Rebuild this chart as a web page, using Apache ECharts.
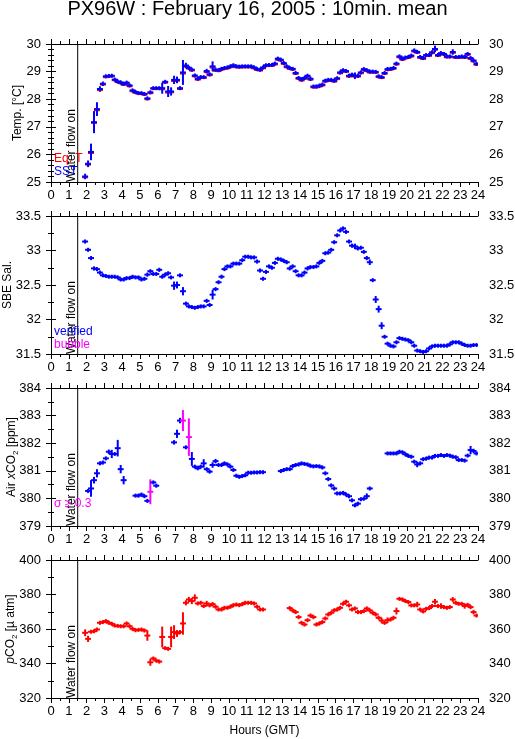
<!DOCTYPE html>
<html><head><meta charset="utf-8">
<script src="https://cdn.jsdelivr.net/npm/echarts@6/dist/echarts.min.js"></script>
<style>html,body{margin:0;padding:0;background:#fff}#c{width:515px;height:739px}</style>
</head><body><div id="c"></div>
<script>
// 10-minute mean time stamps (centre of interval), GMT
const times = ["01:55",
"02:05","02:15","02:25","02:35","02:45","02:55",
"03:05","03:15","03:25","03:35","03:45","03:55",
"04:05","04:15","04:25","04:35","04:45","04:55",
"05:05","05:15","05:25","05:35","05:45","05:55",
"06:05","06:15","06:25","06:35","06:45","06:55",
"07:05","07:15","07:25","07:35","07:45","07:55",
"08:05","08:15","08:25","08:35","08:45","08:55",
"09:05","09:15","09:25","09:35","09:45","09:55",
"10:05","10:15","10:25","10:35","10:45","10:55",
"11:05","11:15","11:25","11:35","11:45","11:55",
"12:05","12:15","12:25","12:35","12:45","12:55",
"13:05","13:15","13:25","13:35","13:45","13:55",
"14:05","14:15","14:25","14:35","14:45","14:55",
"15:05","15:15","15:25","15:35","15:45","15:55",
"16:05","16:15","16:25","16:35","16:45","16:55",
"17:05","17:15","17:25","17:35","17:45","17:55",
"18:05","18:15","18:25","18:35","18:45","18:55",
"19:05","19:15","19:25","19:35","19:45","19:55",
"20:05","20:15","20:25","20:35","20:45","20:55",
"21:05","21:15","21:25","21:35","21:45","21:55",
"22:05","22:15","22:25","22:35","22:45","22:55",
"23:05","23:15","23:25","23:35","23:45","23:55"];

const sst = [25.20,
25.66,26.09,27.17,27.64,28.37,28.56,
28.83,28.84,28.85,28.71,28.64,28.61,
28.55,28.60,28.50,28.32,28.26,28.22,
28.22,28.19,28.03,28.25,28.40,28.40,
28.40,28.40,28.63,28.28,28.28,28.70,
28.70,28.40,28.97,29.22,29.14,29.07,
28.86,28.74,28.80,28.80,29.02,28.90,
29.19,29.07,29.05,29.10,29.13,29.15,
29.19,29.23,29.19,29.18,29.19,29.19,
29.19,29.19,29.15,29.09,29.07,29.15,
29.23,29.24,29.24,29.29,29.47,29.43,
29.31,29.19,29.13,29.10,28.95,28.77,
28.71,28.77,28.85,28.74,28.46,28.46,
28.49,28.53,28.67,28.70,28.70,28.67,
28.76,28.97,29.05,29.02,28.85,28.89,
28.85,28.85,28.97,29.09,29.05,29.00,
29.00,28.99,28.83,28.80,28.95,29.09,
29.10,29.13,29.29,29.55,29.46,29.51,
29.53,29.58,29.76,29.71,29.53,29.49,
29.60,29.60,29.70,29.82,29.60,29.67,
29.64,29.55,29.55,29.71,29.53,29.53,
29.55,29.53,29.64,29.49,29.40,29.28];

const sstSd = [0.10,
0.12,0.30,0.40,0.25,0.10,0.08,
0.03,0.03,0.03,0.02,0.02,0.02,
0.03,0.02,0.05,0.04,0.03,0.03,
0.02,0.03,0.04,0.05,0.03,0.03,
0.04,0.20,0.05,0.20,0.15,0.15,
0.12,0.06,0.45,0.10,0.06,0.04,
0.05,0.04,0.04,0.04,0.08,0.05,
0.18,0.06,0.04,0.03,0.03,0.03,
0.03,0.03,0.02,0.02,0.02,0.02,
0.02,0.02,0.03,0.03,0.03,0.03,
0.03,0.03,0.03,0.03,0.06,0.06,
0.03,0.03,0.03,0.03,0.04,0.06,
0.04,0.03,0.05,0.08,0.03,0.03,
0.03,0.03,0.03,0.03,0.02,0.03,
0.05,0.05,0.04,0.03,0.06,0.05,
0.12,0.08,0.04,0.06,0.04,0.03,
0.03,0.03,0.06,0.05,0.05,0.08,
0.04,0.04,0.06,0.04,0.05,0.04,
0.05,0.05,0.08,0.05,0.04,0.04,
0.03,0.03,0.06,0.12,0.06,0.06,
0.04,0.04,0.04,0.10,0.06,0.06,
0.05,0.05,0.06,0.05,0.05,0.04];

const eqT = [25.17,
25.63,26.05,27.14,27.60,28.33,28.53,
28.80,28.82,28.83,28.69,28.62,28.58,
28.52,28.57,28.47,28.29,28.23,28.20,
28.19,28.16,28.00,28.22,28.38,28.37,
28.37,28.36,28.60,28.24,28.25,28.66,
28.67,28.37,28.93,29.18,29.11,29.04,
28.83,28.71,28.77,28.77,28.98,28.87,
29.15,29.03,29.02,29.07,29.10,29.12,
29.16,29.20,29.16,29.15,29.16,29.16,
29.16,29.16,29.12,29.06,29.04,29.12,
29.20,29.21,29.21,29.26,29.43,29.40,
29.28,29.16,29.10,29.07,28.92,28.74,
28.68,28.74,28.82,28.71,28.43,28.43,
28.46,28.50,28.64,28.67,28.67,28.64,
28.73,28.94,29.02,28.99,28.82,28.86,
28.82,28.82,28.94,29.06,29.02,28.97,
28.97,28.96,28.80,28.77,28.92,29.06,
29.07,29.10,29.26,29.52,29.43,29.48,
29.50,29.55,29.73,29.68,29.50,29.46,
29.57,29.57,29.67,29.79,29.57,29.64,
29.61,29.52,29.52,29.68,29.50,29.50,
29.52,29.50,29.61,29.46,29.37,29.25];

const sal = [33.13,
33.01,32.89,32.74,32.73,32.68,32.64,
32.63,32.62,32.62,32.62,32.61,32.58,
32.58,32.60,32.60,32.62,32.61,32.61,
32.58,32.59,32.65,32.70,32.66,32.66,
32.72,32.62,32.65,32.67,32.61,32.49,
32.50,32.64,32.41,32.23,32.19,32.18,
32.17,32.18,32.19,32.19,32.27,32.21,
32.36,32.44,32.54,32.62,32.73,32.77,
32.77,32.81,32.81,32.81,32.86,32.91,
32.91,32.90,32.90,32.84,32.71,32.59,
32.69,32.77,32.75,32.82,32.88,32.87,
32.85,32.83,32.74,32.77,32.70,32.64,
32.64,32.68,32.74,32.76,32.76,32.77,
32.82,32.85,32.96,32.97,33.01,33.12,
33.22,33.29,33.32,33.27,33.13,33.07,
33.06,33.03,33.04,32.98,32.89,32.83,
32.57,32.29,32.15,31.91,31.75,31.65,
31.62,31.61,31.67,31.73,31.72,31.71,
31.70,31.67,31.62,31.55,31.54,31.53,
31.54,31.58,31.61,31.62,31.62,31.62,
31.62,31.62,31.64,31.67,31.67,31.67,
31.65,31.63,31.62,31.62,31.63,31.63];

const salSd = [0.03,
0.02,0.03,0.03,0.03,0.02,0.01,
0.01,0.01,0.01,0.01,0.01,0.01,
0.01,0.01,0.01,0.01,0.01,0.01,
0.01,0.01,0.03,0.02,0.01,0.01,
0.03,0.01,0.01,0.01,0.02,0.06,
0.05,0.02,0.06,0.02,0.01,0.01,
0.01,0.01,0.01,0.02,0.01,0.03,
0.07,0.02,0.02,0.03,0.01,0.01,
0.01,0.01,0.01,0.01,0.01,0.01,
0.01,0.01,0.01,0.03,0.03,0.02,
0.02,0.02,0.02,0.01,0.01,0.01,
0.01,0.01,0.02,0.02,0.01,0.01,
0.01,0.01,0.01,0.01,0.01,0.01,
0.01,0.01,0.02,0.01,0.01,0.02,
0.02,0.02,0.01,0.03,0.02,0.03,
0.04,0.02,0.01,0.02,0.03,0.04,
0.02,0.05,0.05,0.05,0.02,0.01,
0.01,0.01,0.02,0.01,0.01,0.01,
0.01,0.01,0.02,0.01,0.01,0.01,
0.01,0.01,0.01,0.01,0.01,0.01,
0.01,0.01,0.01,0.01,0.01,0.01,
0.01,0.01,0.01,0.01,0.01,0.01];

const airCo2 = [null,
380.27,380.36,380.66,380.91,381.27,381.30,
381.45,381.69,381.61,381.61,381.82,381.06,
380.66,null,null,null,380.10,380.10,
380.14,380.08,379.91,380.24,380.58,380.46,
null,null,null,null,null,382.03,
382.34,382.82,382.82,381.85,382.22,381.43,
381.15,381.09,381.15,381.27,381.06,380.97,
381.21,381.35,381.21,381.21,381.27,381.23,
381.15,381.03,380.82,380.78,380.81,380.84,
380.93,380.93,380.94,380.94,380.95,380.95,
null,null,null,null,null,380.99,
381.03,381.06,381.06,381.17,381.21,381.23,
381.27,381.25,381.23,381.18,381.16,381.17,
381.16,381.12,380.91,380.70,380.47,380.36,
380.18,380.18,380.20,380.14,380.08,379.93,
379.75,379.81,379.97,379.99,380.08,380.36,
null,null,null,null,null,381.63,
381.63,381.63,381.63,381.69,381.67,381.60,
381.54,381.51,381.33,381.23,381.27,381.42,
381.44,381.48,381.48,381.54,381.54,381.57,
381.54,381.57,381.55,381.51,381.49,381.39,
381.39,381.37,381.55,381.75,381.72,381.63];

const airSd = [0,
0.05,0.30,0.12,0.15,0.05,0.04,
0.05,0.08,0.15,0.06,0.30,0.15,
0.15,0,0,0,0.05,0.03,
0.03,0.03,0.06,0.45,0.06,0.07,
0,0,0,0,0,0.08,
0.15,0.10,0.38,0.05,0.68,0.25,
0.05,0.05,0.06,0.15,0.05,0.06,
0.10,0.08,0.04,0.04,0.04,0.05,
0.06,0.06,0.06,0.06,0.04,0.03,
0.03,0.03,0.02,0.02,0.02,0.02,
0,0,0,0,0,0.03,
0.03,0.03,0.04,0.05,0.04,0.03,
0.03,0.02,0.02,0.03,0.03,0.04,
0.04,0.04,0.06,0.05,0.05,0.05,
0.05,0.04,0.04,0.03,0.03,0.04,
0.05,0.04,0.04,0.05,0.10,0.05,
0,0,0,0,0,0.03,
0.02,0.02,0.02,0.03,0.03,0.03,
0.03,0.04,0.05,0.10,0.05,0.05,
0.04,0.04,0.04,0.04,0.04,0.05,
0.04,0.04,0.03,0.03,0.03,0.03,
0.03,0.03,0.05,0.15,0.08,0.05];

// points flagged sigma >= 0.3 (drawn magenta)
const airFlagged = ["05:35","07:25","07:45"];

const pco2 = [357.8,
354.3,358.4,358.7,359.7,363.6,364.0,
364.6,363.6,363.0,362.0,361.8,361.6,
361.6,363.2,361.6,360.1,359.3,359.5,
359.7,359.1,356.2,340.7,342.9,341.7,
341.1,355.4,348.9,348.5,355.4,358.2,
357.4,358.2,363.2,375.2,377.1,376.2,
378.1,374.8,375.2,373.3,374.8,373.7,
374.4,372.9,371.3,371.3,372.3,372.3,
372.9,373.8,374.2,373.8,374.4,375.2,
375.2,375.2,374.8,372.9,371.3,371.3,
null,null,null,null,null,null,
null,null,372.1,370.8,369.8,366.9,
363.6,362.6,365.1,367.8,366.9,362.6,
363.2,364.0,366.1,368.4,369.4,370.8,
371.3,372.3,374.6,375.8,373.7,371.3,
371.9,369.8,369.8,370.4,371.9,370.8,
369.4,368.4,366.5,364.9,363.6,365.1,
365.5,366.5,370.4,377.5,377.1,376.2,
375.6,373.7,373.7,374.2,371.3,370.2,
371.7,372.1,373.3,375.8,373.3,373.3,
372.7,372.3,372.7,377.1,375.2,374.6,
374.6,373.3,374.0,372.7,369.8,367.8];

const pco2Sd = [2.0,
1.8,1.0,0.8,0.8,1.2,0.6,
0.5,0.5,0.5,0.5,0.5,0.5,
0.5,0.8,0.8,0.6,0.5,0.5,
0.5,0.6,3.0,2.0,0.8,0.8,
0.6,6.0,1.0,1.0,6.0,4.0,
2.0,1.2,6.5,1.5,1.5,1.8,
2.0,0.8,0.8,1.0,1.5,1.0,
1.2,0.8,0.6,0.6,0.5,0.5,
0.5,0.6,0.6,0.5,0.5,0.5,
0.5,0.5,0.6,0.8,0.6,0.6,
0,0,0,0,0,0,
0,0,1.2,0.8,0.6,1.2,
0.8,0.6,1.0,0.8,1.2,0.8,
0.8,0.6,0.6,0.6,0.5,0.5,
0.6,0.8,0.8,1.0,1.0,0.6,
0.8,1.2,0.8,0.8,1.2,0.8,
0.6,0.8,1.0,1.6,1.2,1.6,
0.8,0.8,2.0,1.0,1.0,0.8,
0.8,0.8,0.8,1.6,1.0,0.8,
0.8,0.8,1.0,1.6,1.0,1.6,
0.8,0.8,0.8,1.4,1.0,0.8,
0.8,1.5,1.0,0.8,1.3,0.8];

const waterFlowOn = 1.5; // hours GMT
const xTicks = {min: 0, max: 24, interval: 1};
const panelsY = [
  {min: 25, max: 30, interval: 1, minor: 5},
  {min: 31.5, max: 33.5, interval: 0.5, minor: 2},
  {min: 379, max: 384, interval: 1, minor: 2},
  {min: 320, max: 400, interval: 20, minor: 2}
];

// ---------- build ----------
const FONT = 'Liberation Sans, Arial, Helvetica, sans-serif';
const BLUE = '#0000ff', RED = '#ff0000', MAG = '#ff00ff';
const hrs = times.map(t => { const p = t.split(':'); return +p[0] + (+p[1]) / 60; });
const HALF = 1 / 6; // horizontal half width of a mark (hours)

function mk(vals, sds, flags) {
  return vals.map((v, i) => [hrs[i], v == null ? NaN : v, sds ? sds[i] : 0,
    flags && flags.indexOf(times[i]) >= 0 ? 1 : 0]);
}

function crossRender(color, minH) {
  return function (params, api) {
    const x = api.value(0), y = api.value(1), sd = api.value(2) || 0;
    if (y == null || isNaN(y)) return null;
    const c = api.coord([x, y]);
    const l = api.coord([x - HALF, y]), r = api.coord([x + HALF, y]);
    const t = api.coord([x, y + sd]), b = api.coord([x, y - sd]);
    const top = Math.min(t[1], c[1] - minH), bot = Math.max(b[1], c[1] + minH);
    const col = api.value(3) ? MAG : color;
    return {type: 'group', children: [
      {type: 'line', shape: {x1: l[0], y1: c[1], x2: r[0], y2: c[1]}, style: {stroke: col, lineWidth: 2}},
      {type: 'line', shape: {x1: c[0], y1: top, x2: c[0], y2: bot}, style: {stroke: col, lineWidth: 2}}
    ]};
  };
}

function waterRender(py) {
  return function (params, api) {
    const x = api.value(0);
    const p0 = api.coord([x, py.min]), p1 = api.coord([x, py.max]);
    return {type: 'group', children: [
      {type: 'line', shape: {x1: p0[0], y1: p0[1], x2: p1[0], y2: p1[1]}, style: {stroke: '#000', lineWidth: 1}},
      {type: 'text', x: p0[0], y: p0[1], rotation: Math.PI / 2,
        style: {text: 'Water flow on', fill: '#000', font: '12px ' + FONT, align: 'left', verticalAlign: 'bottom'}}
    ]};
  };
}

const tops = [44, 216, 388, 560];
const H = 138;
const grid = tops.map(t => ({left: 51, right: 37, top: t, height: H, show: false,
  containLabel: false, outerBoundsMode: 'none'}));

const axLine = {show: true, lineStyle: {color: '#000', width: 1}};
const xAxis = [], yAxis = [];
tops.forEach((t, i) => {
  const base = {type: 'value', gridIndex: i, min: xTicks.min, max: xTicks.max, interval: xTicks.interval,
    axisLine: axLine, splitLine: {show: false},
    axisTick: {show: true, inside: false, length: 5, lineStyle: {color: '#000'}},
    minorTick: {show: true, splitNumber: 2, length: 3, lineStyle: {color: '#000'}}};
  xAxis.push(Object.assign({}, base, {position: 'bottom',
    axisLabel: {show: true, color: '#000', fontSize: 13, fontFamily: FONT, margin: 7},
    name: i === 3 ? 'Hours (GMT)' : '', nameLocation: 'middle', nameGap: 27, nameMoveOverlap: false,
    nameTextStyle: {color: '#000', fontSize: 12, fontFamily: FONT}}));
  xAxis.push(Object.assign({}, base, {position: 'top', axisLabel: {show: false}}));
  const py = panelsY[i];
  const yb = {type: 'value', gridIndex: i, min: py.min, max: py.max, interval: py.interval,
    axisLine: axLine, splitLine: {show: false},
    axisTick: {show: true, inside: false, length: 5, lineStyle: {color: '#000'}},
    minorTick: {show: true, splitNumber: py.minor, length: 3, lineStyle: {color: '#000'}}};
  yAxis.push(Object.assign({}, yb, {position: 'left',
    axisLabel: {show: true, color: '#000', fontSize: 13, fontFamily: FONT, margin: 10}}));
  yAxis.push(Object.assign({}, yb, {position: 'right',
    axisLabel: {show: true, color: '#000', fontSize: 13, fontFamily: FONT, margin: 11}}));
});

const yNames = [
  {name: 'Temp. [°C]', gap: 27},
  {name: 'SBE Sal.', gap: 37},
  {name: 'Air {i|x}CO{sub|2} [ppm]', gap: 31},
  {name: '{i|p}CO{sub|2} [{m|µ} atm]', gap: 32}
];
yNames.forEach((n, i) => {
  Object.assign(yAxis[2 * i], {name: n.name, nameLocation: 'middle', nameGap: n.gap, nameMoveOverlap: false,
    nameTextStyle: {color: '#000', fontSize: 12, fontFamily: FONT,
      rich: {i: {fontStyle: 'italic', fontSize: 12, fontFamily: FONT, color: '#000'},
             sub: {fontSize: 8, fontFamily: FONT, color: '#000', verticalAlign: 'bottom', lineHeight: 17},
             m: {fontSize: 12, fontFamily: FONT, color: '#000'}}}});
});

const series = [];
panelsY.forEach((py, i) => {
  series.push({type: 'custom', xAxisIndex: 2 * i, yAxisIndex: 2 * i, renderItem: waterRender(py),
    data: [[waterFlowOn]], animation: false, clip: false, silent: true, z: 1});
});
series.push(
  {type: 'custom', xAxisIndex: 0, yAxisIndex: 0, renderItem: crossRender(RED, 1), data: mk(eqT, null, null), animation: false, clip: true, z: 2},
  {type: 'custom', xAxisIndex: 0, yAxisIndex: 0, renderItem: crossRender(BLUE, 2), data: mk(sst, sstSd, null), animation: false, clip: true, z: 3},
  {type: 'custom', xAxisIndex: 2, yAxisIndex: 2, renderItem: crossRender(BLUE, 2), data: mk(sal, salSd, null), animation: false, clip: true, z: 2},
  {type: 'custom', xAxisIndex: 4, yAxisIndex: 4, renderItem: crossRender(BLUE, 2), data: mk(airCo2, airSd, airFlagged), animation: false, clip: true, z: 2},
  {type: 'custom', xAxisIndex: 6, yAxisIndex: 6, renderItem: crossRender(RED, 2), data: mk(pco2, pco2Sd, null), animation: false, clip: true, z: 2}
);

const txt = (text, left, top, color) => ({type: 'text', left: left, top: top, silent: true, z: 10,
  style: {text: text, fill: color, font: '12px ' + FONT}});

const chart = echarts.init(document.getElementById('c'), null, {renderer: 'canvas'});
chart.setOption({
  animation: false,
  backgroundColor: '#fff',
  title: {text: 'PX96W : February 16, 2005 : 10min. mean', left: 'center', top: -1, padding: 0,
    textStyle: {fontSize: 20, fontWeight: 'normal', color: '#000', fontFamily: FONT}},
  grid: grid, xAxis: xAxis, yAxis: yAxis, series: series,
  graphic: [
    txt('Eq. T', 54, 153, RED),
    txt('SST', 54, 166, BLUE),
    txt('verified', 54, 326, BLUE),
    txt('bubble', 54, 339, MAG),
    txt('σ ≥ 0.3', 54, 498, MAG)
  ]
});
</script></body></html>
